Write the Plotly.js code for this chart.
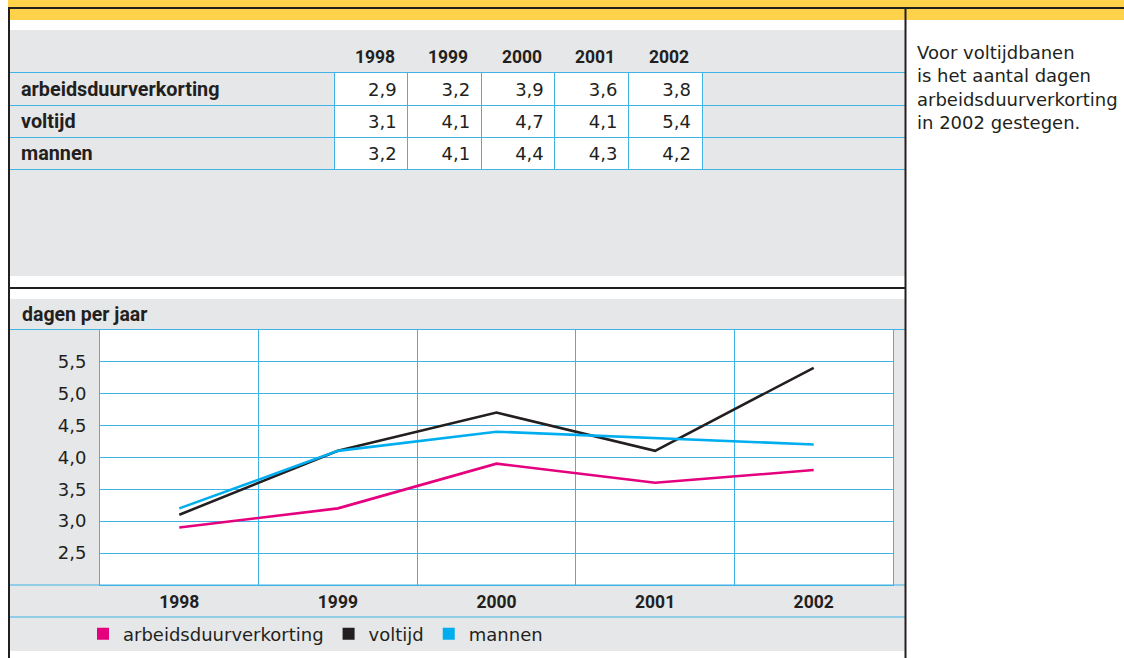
<!DOCTYPE html>
<html>
<head>
<meta charset="utf-8">
<script src="https://cdn.plot.ly/plotly-3.0.1.min.js"></script>
<style>
html,body{margin:0;padding:0;background:#fff;}
#chart{width:1124px;height:658px;}
</style>
</head>
<body>
<div id="chart"></div>
<script>
// ---- data ----
const years = ["1998", "1999", "2000", "2001", "2002"];
const seriesNames = ["arbeidsduurverkorting", "voltijd", "mannen"];
const arbeidsduurverkorting = [2.9, 3.2, 3.9, 3.6, 3.8];
const voltijd = [3.1, 4.1, 4.7, 4.1, 5.4];
const mannen = [3.2, 4.1, 4.4, 4.3, 4.2];
const yTickVals = [2.5, 3.0, 3.5, 4.0, 4.5, 5.0, 5.5];
const yTickText = ["2,5", "3,0", "3,5", "4,0", "4,5", "5,0", "5,5"];
const yTitle = "dagen per jaar";
const sideNote = "Voor voltijdbanen<br>is het aantal dagen<br>arbeidsduurverkorting<br>in 2002 gestegen.";

// ---- style ----
const W = 1124, H = 658;
const X = p => p / W;
const Y = p => 1 - p / H;
const FAM = "'DejaVu Sans', sans-serif";
const BFAM = "Roboto, 'DejaVu Sans', sans-serif";
const TXT = "#231F20";
const F = (size) => ({family: FAM, size: size, color: TXT});
const FB = (size) => ({family: BFAM, size: size, color: TXT, weight: "bold"});
const GRAY = "#E6E7E8";
const BLUE = "#3FB3E6";
const YELLOW = "#FFD24C";
const COLORS = ["#E5007E", "#231F20", "#00AEEF"];
const series = [arbeidsduurverkorting, voltijd, mannen];
const fmt = v => v.toFixed(1).replace(".", ",");

// table geometry (in value-column units)
const LABEL_U = 324 / 73.6, TRAIL_U = 203 / 73.6, PAD_U = 11 / 73.6;

const traces = [];

// chart lines
series.forEach((s, i) => {
  traces.push({
    type: "scatter", mode: "lines", x: years, y: s,
    line: {color: COLORS[i], width: 2.6}, showlegend: false, hoverinfo: "skip",
    xaxis: "x", yaxis: "y"
  });
});
// legend entries (square swatches)
seriesNames.forEach((n, i) => {
  traces.push({
    type: "scatter", mode: "markers", x: [null], y: [null], name: n,
    marker: {symbol: "square", size: 12, color: COLORS[i]},
    xaxis: "x", yaxis: "y"
  });
});

// table values
const tx = [], ty = [], tt = [];
series.forEach((s, r) => s.forEach((v, c) => { tx.push(c + 1 - PAD_U); ty.push(r + 0.57); tt.push(fmt(v)); }));
traces.push({
  type: "scatter", mode: "text", x: tx, y: ty, text: tt, textposition: "middle left",
  textfont: F(18), showlegend: false, hoverinfo: "skip", cliponaxis: false,
  xaxis: "x2", yaxis: "y2"
});
// table row labels
traces.push({
  type: "scatter", mode: "text",
  x: seriesNames.map(() => -LABEL_U + 0.15), y: seriesNames.map((n, r) => r + 0.56),
  text: seriesNames, textposition: "middle right",
  textfont: FB(19.8), showlegend: false, hoverinfo: "skip", cliponaxis: false,
  xaxis: "x2", yaxis: "y2"
});

const shapes = [
  {type: "rect", xref: "paper", yref: "paper", x0: X(8), x1: X(1124), y0: Y(20), y1: Y(0), fillcolor: YELLOW, line: {width: 0}, layer: "below"},
  {type: "rect", xref: "paper", yref: "paper", x0: X(10), x1: X(905), y0: Y(276), y1: Y(30), fillcolor: GRAY, line: {width: 0}, layer: "below"},
  {type: "rect", xref: "paper", yref: "paper", x0: X(10), x1: X(905), y0: Y(651), y1: Y(299), fillcolor: GRAY, line: {width: 0}, layer: "below"},
  {type: "rect", xref: "x domain", yref: "y domain", x0: 0, x1: 1, y0: 0, y1: 1, fillcolor: "#fff", line: {width: 0}, layer: "below"},
  // white value cells
  {type: "rect", xref: "x2", yref: "y2", x0: 0, x1: years.length, y0: 0, y1: seriesNames.length, fillcolor: "#fff", line: {width: 0}, layer: "below"},
  {type: "line", xref: "paper", yref: "paper", x0: X(10), x1: X(905), y0: Y(329.5), y1: Y(329.5), line: {color: BLUE, width: 1.2}},
  {type: "line", xref: "paper", yref: "paper", x0: X(10), x1: X(905), y0: Y(585), y1: Y(585), line: {color: BLUE, width: 1.2}},
  {type: "line", xref: "paper", yref: "paper", x0: X(10), x1: X(905), y0: Y(617), y1: Y(617), line: {color: BLUE, width: 1.2}},
  {type: "line", xref: "paper", yref: "paper", x0: X(8), x1: X(1124), y0: Y(8), y1: Y(8), line: {color: TXT, width: 2}},
  {type: "line", xref: "paper", yref: "paper", x0: X(9), x1: X(9), y0: Y(658), y1: Y(8), line: {color: TXT, width: 2}},
  {type: "line", xref: "paper", yref: "paper", x0: X(905.5), x1: X(905.5), y0: Y(658), y1: Y(8), line: {color: TXT, width: 2}},
  {type: "line", xref: "paper", yref: "paper", x0: X(9), x1: X(905), y0: Y(288), y1: Y(288), line: {color: TXT, width: 2}}
];

const annotations = [
  {xref: "paper", yref: "paper", x: X(20), y: Y(314), xanchor: "left", yanchor: "middle",
   text: yTitle, showarrow: false, font: FB(19.5)},
  {xref: "paper", yref: "paper", x: X(915), y: Y(40), xanchor: "left", yanchor: "top", align: "left",
   text: sideNote, showarrow: false, font: F(18)}
];
years.forEach((y, c) => annotations.push({
  xref: "x2", yref: "paper", x: c + 1 - PAD_U, y: Y(57.5), xanchor: "right", yanchor: "middle",
  text: y, showarrow: false, font: FB(17.5)
}));

const layout = {
  width: W, height: H,
  margin: {l: 0, r: 0, t: 0, b: 0},
  paper_bgcolor: "#fff",
  plot_bgcolor: "rgba(0,0,0,0)",
  font: F(18),
  showlegend: true,
  legend: {
    orientation: "h", x: X(83), xanchor: "left", y: Y(634), yanchor: "middle",
    bgcolor: "rgba(0,0,0,0)", font: F(18), itemclick: false, traceorder: "normal"
  },
  xaxis: {
    domain: [X(100), X(893)],
    type: "category", range: [-0.5, 4.5], tickson: "boundaries",
    showgrid: true, gridcolor: BLUE, gridwidth: 1,
    showline: true, mirror: true, linecolor: BLUE, linewidth: 1,
    ticks: "", ticklabelstandoff: 1,
    tickfont: FB(17.5),
    fixedrange: true, zeroline: false
  },
  yaxis: {
    domain: [Y(585), Y(329.5)],
    range: [2, 6], tickvals: yTickVals, ticktext: yTickText,
    showgrid: true, gridcolor: BLUE, gridwidth: 1,
    showline: true, mirror: true, linecolor: BLUE, linewidth: 1,
    ticks: "", ticklabelstandoff: 9,
    tickfont: F(18),
    fixedrange: true, zeroline: false
  },
  xaxis2: {
    domain: [X(10), X(905)], anchor: "y2",
    range: [-LABEL_U, years.length + TRAIL_U],
    tickvals: years.map((y, i) => i).concat([years.length]),
    showticklabels: false, ticks: "",
    showgrid: true, gridcolor: BLUE, gridwidth: 1,
    showline: true, mirror: true, linecolor: BLUE, linewidth: 1,
    zeroline: false, fixedrange: true
  },
  yaxis2: {
    domain: [Y(169), Y(73)], anchor: "x2",
    range: [seriesNames.length, 0],
    tickvals: seriesNames.map((n, i) => i).concat([seriesNames.length]),
    showticklabels: false, ticks: "",
    showgrid: true, gridcolor: BLUE, gridwidth: 1,
    showline: false, zeroline: false, fixedrange: true
  },
  shapes: shapes,
  annotations: annotations
};

Plotly.newPlot("chart", traces, layout, {displayModeBar: false, staticPlot: true});
</script>
</body>
</html>
